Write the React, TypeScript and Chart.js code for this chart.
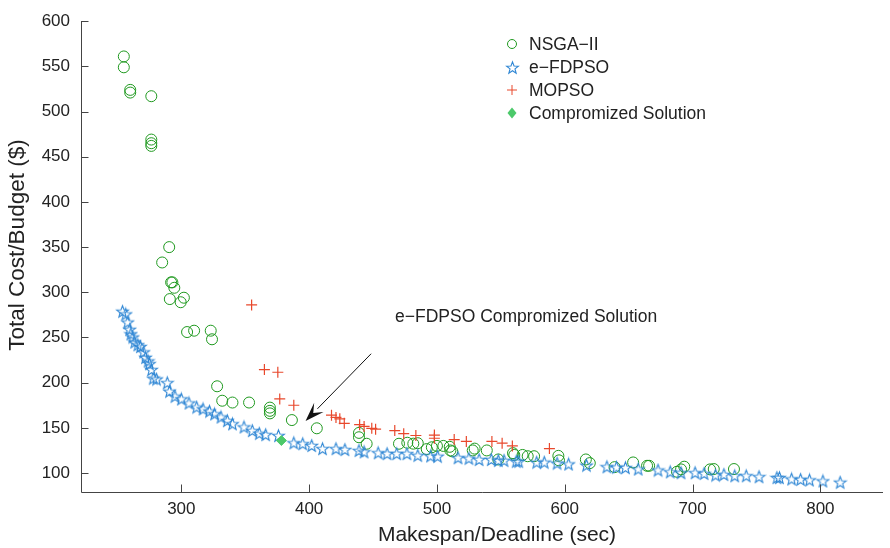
import { useEffect, useRef } from 'react';
import { Chart, registerables } from 'chart.js';
Chart.register(...registerables);

const FONT = '"Liberation Sans", Arial, Helvetica, sans-serif';

const xTicks = [300, 400, 500, 600, 700, 800];
const yTicks = [100, 150, 200, 250, 300, 350, 400, 450, 500, 550, 600];
const X_MIN = 221.5;
const X_MAX = 849;
const Y_MIN = 79;
const Y_MAX = 600;

const xTitle = 'Makespan/Deadline (sec)';
const yTitle = 'Total Cost/Budget ($)';
const seriesNames = ['NSGA\u2212II', 'e\u2212FDPSO', 'MOPSO', 'Compromized Solution'];

const nsgaPoints: [number, number][] = [
  [255, 561], [255, 549], [260, 524], [260, 521], [276.5, 517], [276.5, 469], [276.5, 465], [276.5, 462],
  [290.5, 350], [285, 333], [292, 311], [293, 311], [294.5, 305], [291, 292.5], [302, 294], [299.5, 289],
  [310, 257.5], [304.5, 256], [323, 257.5], [324, 248], [328, 196], [332, 180], [340, 178], [353, 178],
  [369.3, 172.4], [369.3, 168.8], [369.3, 166], [386.5, 158.6], [406, 149.5], [439, 144.4], [439, 139.6],
  [445, 132.4], [470.3, 132.4], [476.8, 133.5], [481.5, 132.5], [485, 133], [492, 126.5], [496, 128.5],
  [500, 130], [505, 130], [510, 129], [510.5, 125], [512, 124], [528, 125], [529.5, 127], [539, 125],
  [548, 115], [559.5, 122], [560.5, 120], [567, 120], [571, 118.6], [576, 118.6], [595, 119], [595.5, 114],
  [616.5, 115], [619.6, 111], [639, 106.5], [653.5, 111.7], [664.4, 108], [666, 108], [687.8, 101.4],
  [691, 104], [693.5, 107], [713.7, 104], [716.6, 104.4], [732.4, 104.4],
];

const fdpsoPoints: [number, number][] = [
  [254, 279], [256.5, 276], [258, 267], [259.6, 259], [260.5, 254], [262, 250.5], [263.5, 245], [266, 242],
  [268, 240], [270.5, 234], [272, 228], [274, 224], [275, 221], [276.7, 214.5], [278, 205], [280.6, 204],
  [289, 200], [290.7, 190.5], [295, 185], [300, 182], [306, 177.5], [312, 173], [317, 171], [322, 168.5],
  [326, 165.5], [331, 162], [336, 158], [340, 154.5], [349, 151], [355.5, 147], [361, 144], [366, 142.5],
  [376, 141.5], [388, 133.5], [395, 132.5], [402, 130.5], [410.5, 127], [421, 127], [428, 126], [439, 125],
  [443, 123.5], [454, 122.5], [461, 121.5], [468.5, 121.5], [476.5, 121.5], [485, 119.6], [495, 119],
  [500.5, 118.6], [516.5, 117], [525, 116.4], [533, 115], [542.5, 115], [548, 114], [552.5, 114], [562, 113],
  [564, 113], [578, 112], [584, 112], [594, 111], [603, 110], [617, 108.7], [633, 107], [640.5, 106.5],
  [647.5, 106], [657.5, 104.5], [673, 103.3], [682.5, 101.4], [691, 100.4], [702, 100.4], [709, 99.6],
  [718, 97.8], [724.5, 98.5], [733, 97], [742, 97], [752, 96], [766, 95], [768, 95], [777.5, 93.5],
  [784.5, 93], [791.5, 92.4], [802, 91.3], [815.5, 89.8],
];

const mopsoPoints: [number, number][] = [
  [355, 286], [365, 214.5], [375.5, 211.5], [377, 182], [388, 175], [417.5, 164], [421, 161.5], [424, 160],
  [427.5, 155], [439.5, 153.5], [443, 151.6], [449, 149.5], [452, 148.5], [467, 147], [474, 143.5],
  [483.5, 141.5], [498, 142], [498, 138.5], [513.5, 137], [523, 135], [543, 135], [551, 133], [559, 130],
  [588, 127],
];

const compromisePoints: [number, number][] = [[378.3, 136]];

const annotationText = 'e\u2212FDPSO Compromized Solution';
const annotationTextPos: [number, number] = [467.2, 272.3];
const arrowFrom: [number, number] = [448.5, 232];
const arrowTo: [number, number] = [397.2, 157.6];

const GREEN = '#1f991f';
const BLUE = '#2e86d4';
const RED = '#e8482c';
const DIAMOND = '#4cc96a';
const AXIS = '#444444';
const TEXT = '#222222';

function makeStar(color: string) {
  const size = 15;
  const c = document.createElement('canvas');
  c.width = size;
  c.height = size;
  const ctx = c.getContext('2d')!;
  ctx.strokeStyle = color;
  ctx.lineWidth = 1.1;
  ctx.beginPath();
  const R = 6.2, r = 2.6;
  for (let i = 0; i < 10; i++) {
    const a = -Math.PI / 2 + (i * Math.PI) / 5;
    const rr = i % 2 ? r : R;
    const px = size / 2 + rr * Math.cos(a);
    const py = size / 2 + 0.6 + rr * Math.sin(a);
    if (i === 0) ctx.moveTo(px, py);
    else ctx.lineTo(px, py);
  }
  ctx.closePath();
  ctx.stroke();
  return c;
}

const toXY = (pts: [number, number][]) => pts.map(([x, y]) => ({ x, y }));

export default function App() {
  const ref = useRef<HTMLCanvasElement>(null);
  useEffect(() => {
    document.body.style.margin = '0';
    const star = makeStar(BLUE);

    const decor = {
      id: 'decor',
      afterDraw(chart: any) {
        const ctx = chart.ctx as CanvasRenderingContext2D;
        const { left, right, top, bottom } = chart.chartArea;
        const xs = chart.scales.x;
        const ys = chart.scales.y;
        ctx.save();
        // axes
        ctx.strokeStyle = AXIS;
        ctx.lineWidth = 1;
        const L = Math.round(left) + 0.5;
        const B = Math.round(bottom) + 0.5;
        ctx.beginPath();
        ctx.moveTo(L, Math.round(top));
        ctx.lineTo(L, B);
        ctx.lineTo(Math.round(right), B);
        ctx.stroke();
        ctx.beginPath();
        for (const v of yTicks) {
          const y = Math.round(ys.getPixelForValue(v)) + 0.5;
          ctx.moveTo(L, y);
          ctx.lineTo(L + 7, y);
        }
        for (const v of xTicks) {
          const x = Math.round(xs.getPixelForValue(v)) + 0.5;
          ctx.moveTo(x, B);
          ctx.lineTo(x, B - 8);
        }
        ctx.stroke();

        // titles
        ctx.fillStyle = TEXT;
        ctx.textAlign = 'center';
        ctx.textBaseline = 'middle';
        ctx.font = `21px ${FONT}`;
        ctx.fillText(xTitle, 497, 535);
        ctx.save();
        ctx.translate(18, 245);
        ctx.rotate(-Math.PI / 2);
        ctx.font = `22.5px ${FONT}`;
        ctx.fillText(yTitle, 0, 0);
        ctx.restore();

        // annotation
        ctx.font = `17.5px ${FONT}`;
        ctx.textAlign = 'left';
        ctx.fillText(annotationText, xs.getPixelForValue(annotationTextPos[0]), ys.getPixelForValue(annotationTextPos[1]));
        const ax0 = xs.getPixelForValue(arrowFrom[0]);
        const ay0 = ys.getPixelForValue(arrowFrom[1]);
        const ax1 = xs.getPixelForValue(arrowTo[0]);
        const ay1 = ys.getPixelForValue(arrowTo[1]);
        const ang = Math.atan2(ay1 - ay0, ax1 - ax0);
        const hl = 17, hw = 6.5;
        const bx = ax1 - hl * Math.cos(ang);
        const by = ay1 - hl * Math.sin(ang);
        ctx.strokeStyle = '#111';
        ctx.lineWidth = 1;
        ctx.beginPath();
        ctx.moveTo(ax0, ay0);
        ctx.lineTo(bx, by);
        ctx.stroke();
        ctx.fillStyle = '#111';
        ctx.beginPath();
        ctx.moveTo(ax1, ay1);
        ctx.lineTo(bx - hw * Math.sin(ang) - 2 * Math.cos(ang), by + hw * Math.cos(ang) - 2 * Math.sin(ang));
        ctx.lineTo(ax1 - (hl - 6) * Math.cos(ang), ay1 - (hl - 6) * Math.sin(ang));
        ctx.lineTo(bx + hw * Math.sin(ang) - 2 * Math.cos(ang), by - hw * Math.cos(ang) - 2 * Math.sin(ang));
        ctx.closePath();
        ctx.fill();

        // legend
        const mx = 512, tx = 529;
        const rows = [44, 67, 90, 113];
        ctx.font = `17.5px ${FONT}`;
        ctx.fillStyle = TEXT;
        ctx.textAlign = 'left';
        ctx.textBaseline = 'middle';
        seriesNames.forEach((n, i) => ctx.fillText(n, tx, rows[i] + 1));
        ctx.lineWidth = 1;
        ctx.strokeStyle = GREEN;
        ctx.beginPath();
        ctx.arc(mx, rows[0], 4.5, 0, Math.PI * 2);
        ctx.stroke();
        ctx.drawImage(star, Math.round(mx - 7.5), Math.round(rows[1] - 7.5));
        ctx.strokeStyle = RED;
        ctx.beginPath();
        ctx.moveTo(mx - 5, rows[2]);
        ctx.lineTo(mx + 5, rows[2]);
        ctx.moveTo(mx, rows[2] - 5);
        ctx.lineTo(mx, rows[2] + 5);
        ctx.stroke();
        ctx.fillStyle = DIAMOND;
        ctx.beginPath();
        ctx.moveTo(mx, rows[3] - 5.5);
        ctx.lineTo(mx + 4.5, rows[3]);
        ctx.lineTo(mx, rows[3] + 5.5);
        ctx.lineTo(mx - 4.5, rows[3]);
        ctx.closePath();
        ctx.fill();
        ctx.restore();
      },
    };

    const tickFont = { family: FONT, size: 17 };
    const chart = new Chart(ref.current!, {
      type: 'scatter',
      data: {
        datasets: [
          {
            label: seriesNames[0],
            data: toXY(nsgaPoints),
            pointStyle: 'circle',
            pointRadius: 5.5,
            backgroundColor: 'rgba(0,0,0,0)',
            borderColor: GREEN,
            borderWidth: 1,
            order: 3,
          },
          {
            label: seriesNames[1],
            data: toXY(fdpsoPoints),
            pointStyle: star as any,
            pointRadius: 6,
            backgroundColor: BLUE,
            borderColor: BLUE,
            order: 2,
          },
          {
            label: seriesNames[2],
            data: toXY(mopsoPoints),
            pointStyle: 'cross',
            pointRadius: 5.5,
            borderColor: RED,
            borderWidth: 1.2,
            order: 1,
          },
          {
            label: seriesNames[3],
            data: toXY(compromisePoints),
            pointStyle: 'rectRot',
            pointRadius: 5,
            backgroundColor: DIAMOND,
            borderColor: DIAMOND,
            borderWidth: 1,
            order: 0,
          },
        ],
      },
      options: {
        animation: false,
        responsive: false,
        devicePixelRatio: 1,
        layout: { padding: { top: 15, right: 2, left: 0, bottom: 0 } },
        plugins: { legend: { display: false }, tooltip: { enabled: false } },
        scales: {
          x: {
            type: 'linear',
            min: X_MIN,
            max: X_MAX,
            grid: { display: false, drawTicks: false },
            border: { display: false },
            ticks: { font: tickFont, color: TEXT, padding: 7, maxRotation: 0 },
            afterBuildTicks: (s: any) => {
              s.ticks = xTicks.map((v) => ({ value: v }));
            },
            afterFit: (s: any) => {
              s.height = 56;
            },
          },
          y: {
            type: 'linear',
            min: Y_MIN,
            max: Y_MAX,
            grid: { display: false, drawTicks: false },
            border: { display: false },
            ticks: { font: tickFont, color: TEXT, padding: 11 },
            afterBuildTicks: (s: any) => {
              s.ticks = yTicks.map((v) => ({ value: v }));
            },
            afterFit: (s: any) => {
              s.width = 81;
            },
          },
        },
      },
      plugins: [decor],
    });
    return () => chart.destroy();
  }, []);
  return (
    <div style={{ position: 'absolute', left: 0, top: 0, width: 890, height: 548 }}>
      <canvas ref={ref} width={890} height={548} style={{ display: 'block' }} />
    </div>
  );
}
